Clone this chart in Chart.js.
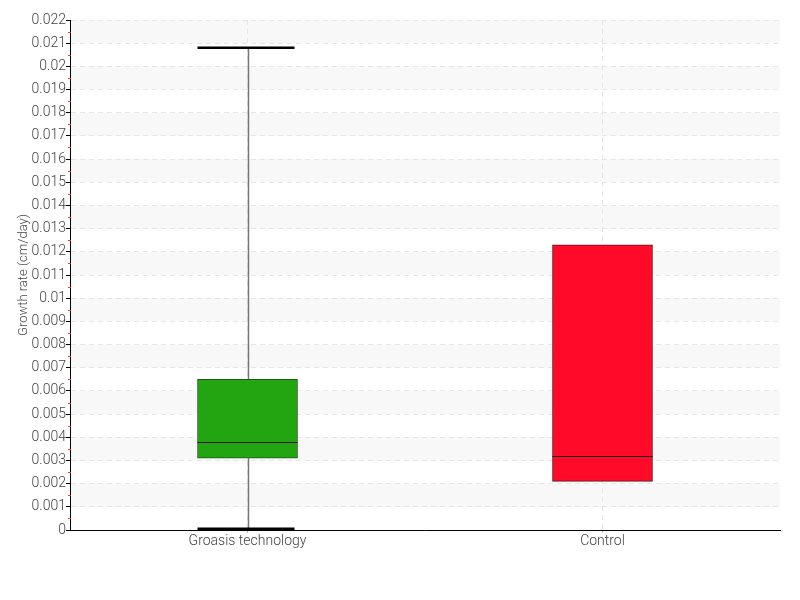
<!DOCTYPE html>
<html>
<head>
<meta charset="utf-8">
<script src="https://cdn.jsdelivr.net/npm/chart.js@4"></script>
<style>
  html, body { margin: 0; padding: 0; background: #fff; }
  #wrap { width: 800px; height: 600px; }
</style>
</head>
<body>
<div id="wrap"><canvas id="boxChart" width="800" height="600"></canvas></div>
<script>
// Data
const groups = ["Groasis technology", "Control"];
const minValues = [0.00005, 0.0021];
const q1Values = [0.0031, 0.0021];
const medianValues = [0.0038, 0.0032];
const q3Values = [0.0065, 0.0123];
const maxValues = [0.0208, 0.0123];

const boxColors = ["#22a511", "#ff0a28"];
const boxBorders = ["#1d5a14", "#5a1018"];

const FONT = "Roboto, 'Liberation Sans Narrow', sans-serif";

// alternating bands + red minor ticks
const bandsPlugin = {
    id: "bands",
    beforeDraw(chart) {
        const { ctx, chartArea } = chart;
        const y = chart.scales.y;
        ctx.save();
        ctx.fillStyle = "#f8f8f8";
        for (let k = 1; k < 22; k += 2) {
            const top = y.getPixelForValue((k + 1) * 0.001);
            const bottom = y.getPixelForValue(k * 0.001);
            ctx.fillRect(chartArea.left, top, chartArea.right - chartArea.left, bottom - top);
        }
        ctx.restore();
    },
    afterDraw(chart) {
        const { ctx, chartArea } = chart;
        const y = chart.scales.y;
        ctx.save();
        ctx.strokeStyle = "#ff3030";
        ctx.lineWidth = 1;
        for (let i = 0; i < 22; i++) {
            const py = Math.round(y.getPixelForValue(i * 0.001 + 0.0005)) + 0.5;
            ctx.beginPath();
            ctx.moveTo(chartArea.left - 2, py);
            ctx.lineTo(chartArea.left + 1, py);
            ctx.stroke();
        }
        ctx.restore();
    },
};

// whiskers under the boxes, medians on top
const boxPlugin = {
    id: "boxWhiskers",
    beforeDatasetsDraw(chart) {
        const { ctx } = chart;
        const y = chart.scales.y;
        const meta = chart.getDatasetMeta(0);
        ctx.save();
        meta.data.forEach((bar, i) => {
            const x = Math.round(bar.x) + 0.5;
            const half = bar.width / 2;
            const pairs = [[q3Values[i], maxValues[i]], [q1Values[i], minValues[i]]];
            pairs.forEach(([from, to]) => {
                if (from === to) return;
                ctx.strokeStyle = "#777";
                ctx.lineWidth = 1.5;
                ctx.beginPath();
                ctx.moveTo(x, y.getPixelForValue(from));
                ctx.lineTo(x, y.getPixelForValue(to));
                ctx.stroke();
                ctx.strokeStyle = "#000";
                ctx.lineWidth = 2.5;
                ctx.beginPath();
                ctx.moveTo(bar.x - half, y.getPixelForValue(to));
                ctx.lineTo(bar.x + half - 3, y.getPixelForValue(to));
                ctx.stroke();
            });
        });
        ctx.restore();
    },
    afterDatasetsDraw(chart) {
        const { ctx } = chart;
        const y = chart.scales.y;
        const meta = chart.getDatasetMeta(0);
        ctx.save();
        ctx.strokeStyle = "#111";
        ctx.lineWidth = 1;
        meta.data.forEach((bar, i) => {
            const py = Math.round(y.getPixelForValue(medianValues[i])) + 0.5;
            ctx.beginPath();
            ctx.moveTo(bar.x - bar.width / 2, py);
            ctx.lineTo(bar.x + bar.width / 2, py);
            ctx.stroke();
        });
        ctx.restore();
    },
};

const ctx = document.getElementById("boxChart").getContext("2d");

new Chart(ctx, {
    type: "bar",
    data: {
        labels: groups,
        datasets: [
            {
                data: groups.map((g, i) => [q1Values[i], q3Values[i]]),
                backgroundColor: boxColors,
                borderColor: boxBorders,
                borderWidth: 1,
                borderSkipped: false,
                barThickness: 100,
            },
        ],
    },
    options: {
        responsive: false,
        animation: false,
        layout: { padding: { top: 20, right: 20, left: 16, bottom: 0 } },
        plugins: {
            legend: { display: false },
            tooltip: { enabled: false },
        },
        scales: {
            x: {
                grid: {
                    offset: false,
                    color: "#e6e6e6",
                    tickColor: "#bbb",
                    tickLength: 3,
                },
                border: { color: "#000", width: 1, dash: [5, 4] },
                ticks: {
                    color: "#444",
                    font: { family: FONT, size: 14, weight: 300 },
                    padding: 0,
                },
                afterFit(scale) { scale.height = 70; },
            },
            y: {
                min: 0,
                max: 0.022,
                ticks: {
                    stepSize: 0.001,
                    color: "#444",
                    font: { family: FONT, size: 14, weight: 300 },
                    padding: 0,
                    callback: (v) => String(+Number(v).toFixed(3)),
                },
                grid: {
                    color: "#e6e6e6",
                    tickColor: "#000",
                    tickLength: 4,
                },
                border: { color: "#000", width: 1, dash: [5, 4] },
                title: {
                    display: true,
                    text: "Growth rate (cm/day)",
                    color: "#444",
                    font: { family: FONT, size: 13, weight: 300 },
                    padding: 0,
                },
                afterFit(scale) { scale.width = 54; },
            },
        },
    },
    plugins: [bandsPlugin, boxPlugin],
});
</script>
</body>
</html>
